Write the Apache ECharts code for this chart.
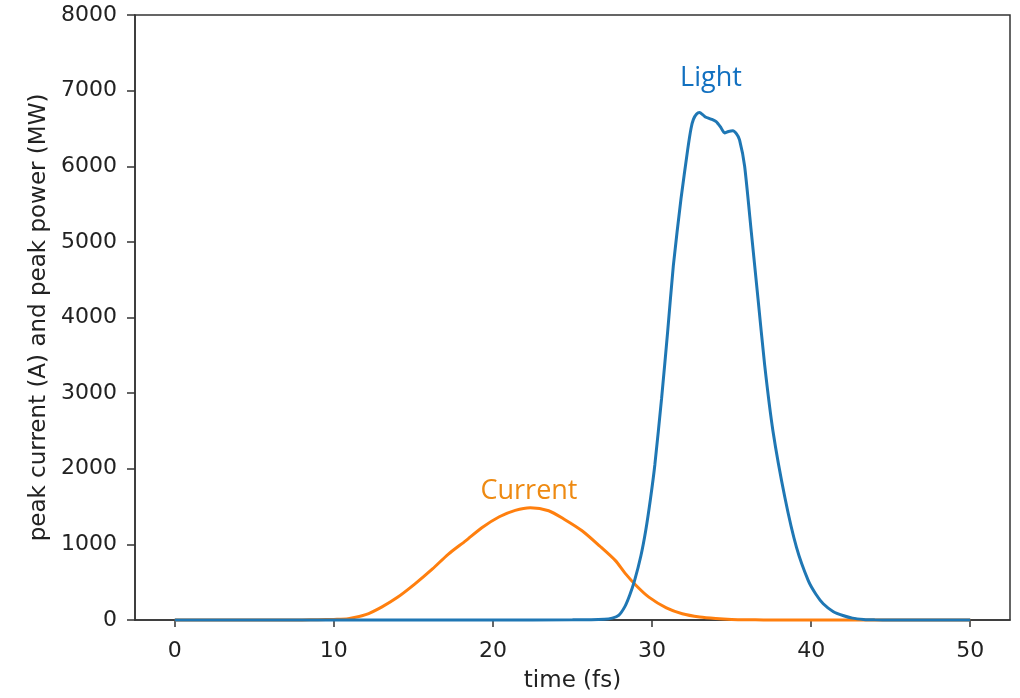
<!DOCTYPE html>
<html>
<head>
<meta charset="utf-8">
<script src="https://cdn.jsdelivr.net/npm/echarts@6/dist/echarts.min.js"></script>
<style>
html,body{margin:0;padding:0;background:#fff;}
#chart{width:1020px;height:698px;}
</style>
</head>
<body>
<div id="chart"></div>
<script>
// ---- data ----
var lightTime = [0, 10, 20, 25, 27, 27.5, 27.9, 28.3, 28.6, 28.9, 29.3, 29.6, 29.9, 30.18, 30.6, 30.98, 31.34, 31.82, 32.24, 32.45, 32.6, 32.8, 32.98, 33.2, 33.35, 33.5, 33.75, 34.03, 34.3, 34.56, 34.8, 35.08, 35.3, 35.5, 35.82, 36.24, 36.66, 37.08, 37.6, 38.35, 39.08, 39.82, 40.3, 40.76, 41.4, 42.0, 42.6, 43.3, 44, 45, 50];
var lightPower = [0, 0, 0, 2, 10, 25, 60, 180, 330, 520, 850, 1180, 1600, 2060, 2930, 3810, 4690, 5570, 6220, 6500, 6620, 6690, 6710, 6680, 6650, 6640, 6620, 6590, 6520, 6440, 6460, 6470, 6430, 6350, 6000, 5130, 4250, 3370, 2500, 1620, 960, 520, 340, 215, 110, 60, 25, 8, 2, 0, 0];

var currentTime = [0, 5, 8, 9, 10, 10.9, 12, 13, 14, 15.1, 16.2, 17.2, 18.3, 19.3, 20.4, 21.4, 22.35, 23.5, 24.5, 25.6, 26.7, 27.7, 28.3, 29.0, 29.8, 30.9, 31.9, 33, 34, 35, 36, 37, 38, 50];
var currentAmp = [0, 0, 1, 3, 8, 17, 70, 171, 300, 478, 675, 872, 1050, 1220, 1365, 1450, 1485, 1445, 1330, 1180, 980, 785, 620, 456, 302, 160, 83, 40, 20, 8, 3, 1, 0, 0];

var xTicks = [0, 10, 20, 30, 40, 50];
var yTicks = [0, 1000, 2000, 3000, 4000, 5000, 6000, 7000, 8000];
var xName = 'time (fs)';
var yName = 'peak current (A) and peak power (MW)';
var labelLight = 'Light';
var labelCurrent = 'Current';

function pairs(xs, ys) { return xs.map(function (x, i) { return [x, ys[i]]; }); }

var chart = echarts.init(document.getElementById('chart'), null, { renderer: 'canvas' });
var tickFont = { fontFamily: 'DejaVu Sans', fontSize: 22, color: '#222' };
chart.setOption({
  animation: false,
  backgroundColor: '#fff',
  grid: { left: 135, right: 10, top: 15, bottom: 75, show: true, borderColor: '#333', borderWidth: 1.5, backgroundColor: 'transparent' },
  xAxis: {
    type: 'value', min: -2.5, max: 52.5,
    name: xName, nameLocation: 'middle', nameGap: 50,
    nameTextStyle: { fontFamily: 'DejaVu Sans', fontSize: 23, color: '#222' },
    axisLine: { show: true, onZero: false, lineStyle: { color: '#333', width: 1.5 } },
    axisTick: { show: true, length: 7, customValues: xTicks, lineStyle: { color: '#333', width: 1.5 } },
    axisLabel: Object.assign({ margin: 20, customValues: xTicks, formatter: function (v) { return String(v); } }, tickFont),
    splitLine: { show: false }
  },
  yAxis: {
    type: 'value', min: yTicks[0], max: yTicks[yTicks.length - 1], interval: 1000,
    name: yName, nameLocation: 'middle', nameGap: 84, nameRotate: 90,
    nameTextStyle: { fontFamily: 'DejaVu Sans', fontSize: 23, color: '#222' },
    axisLine: { show: true, onZero: false, lineStyle: { color: '#333', width: 1.5 } },
    axisTick: { show: true, length: 8, lineStyle: { color: '#333', width: 1.5 } },
    axisLabel: Object.assign({ margin: 18, formatter: function (v) { return String(v); } }, tickFont),
    splitLine: { show: false }
  },
  series: [
    { name: labelCurrent, type: 'line', data: pairs(currentTime, currentAmp), showSymbol: false, smooth: 0.25, clip: false,
      lineStyle: { color: '#ff7f0e', width: 3 }, itemStyle: { color: '#ff7f0e' }, z: 2 },
    { name: labelLight, type: 'line', data: pairs(lightTime, lightPower), showSymbol: false, smooth: 0.2, clip: false,
      lineStyle: { color: '#1f77b4', width: 3 }, itemStyle: { color: '#1f77b4' }, z: 3 }
  ],
  graphic: [
    { type: 'text', x: 711, y: 78, style: { text: labelLight, fill: '#1170c0', fontFamily: 'Open Sans', fontSize: 27, textAlign: 'center', textVerticalAlign: 'middle' } },
    { type: 'text', x: 529, y: 491, style: { text: labelCurrent, fill: '#ee8a12', fontFamily: 'Open Sans', fontSize: 27, textAlign: 'center', textVerticalAlign: 'middle' } }
  ]
});
</script>
</body>
</html>
